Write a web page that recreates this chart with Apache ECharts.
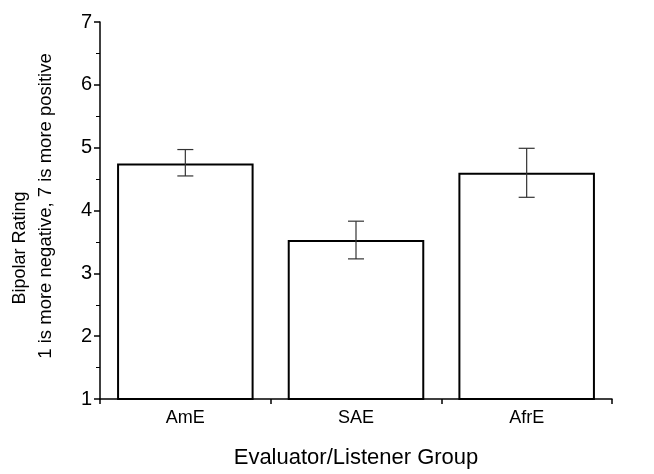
<!DOCTYPE html>
<html>
<head>
<meta charset="utf-8">
<script src="https://cdn.jsdelivr.net/npm/echarts@6/dist/echarts.min.js"></script>
<style>
  html, body { margin: 0; padding: 0; background: #fff; }
  #chart { width: 654px; height: 474px; }
</style>
</head>
<body>
<div id="chart"></div>
<script>
const groups = ["AmE", "SAE", "AfrE"]
const means = [4.75, 3.53, 4.60]
const errLow = [4.55, 3.23, 4.21]
const errHigh = [4.97, 3.83, 4.99]
const yTicks = [1, 2, 3, 4, 5, 6, 7]

const chart = echarts.init(document.getElementById("chart"))
const font = "Liberation Sans, Arial, sans-serif"

const option = {
  animation: false,
  grid: { left: 100, right: 42, top: 22, bottom: 74 },
  xAxis: {
    type: "category",
    data: groups,
    boundaryGap: true,
    axisLine: { lineStyle: { color: "#000", width: 1.5 } },
    axisTick: { show: true, length: 5, lineStyle: { color: "#000", width: 1.5 } },
    axisLabel: { color: "#000", fontSize: 18, fontFamily: font, margin: 10 },
    name: "Evaluator/Listener Group",
    nameLocation: "middle",
    nameGap: 48,
    nameTextStyle: { color: "#000", fontSize: 22, fontFamily: font }
  },
  yAxis: {
    type: "value",
    min: yTicks[0],
    max: yTicks[yTicks.length - 1],
    interval: 1,
    splitLine: { show: false },
    axisLine: { show: true, lineStyle: { color: "#000", width: 1.5 } },
    axisTick: { show: true, length: 6, lineStyle: { color: "#000", width: 1.5 } },
    minorTick: { show: true, splitNumber: 2, length: 4, lineStyle: { color: "#000", width: 1 } },
    axisLabel: { color: "#000", fontSize: 20, fontFamily: font, margin: 8 }
  },
  graphic: [
    {
      type: "text",
      x: 20, y: 248, rotation: Math.PI / 2,
      style: { text: "Bipolar Rating", fill: "#000", fontSize: 18, fontFamily: font, align: "center", verticalAlign: "middle" }
    },
    {
      type: "text",
      x: 46, y: 206, rotation: Math.PI / 2,
      style: { text: "1 is more negative, 7 is more positive", fill: "#000", fontSize: 18.5, fontFamily: font, align: "center", verticalAlign: "middle" }
    }
  ],
  series: [
    {
      type: "bar",
      data: means,
      barWidth: "80%",
      itemStyle: { color: "#fff", borderColor: "#000", borderWidth: 2 }
    },
    {
      type: "custom",
      data: groups.map((g, i) => [i, errLow[i], errHigh[i]]),
      renderItem: function (params, api) {
        const lo = api.coord([api.value(0), api.value(1)])
        const hi = api.coord([api.value(0), api.value(2)])
        const half = 8
        const st = { stroke: "#333", lineWidth: 1.2 }
        return {
          type: "group",
          children: [
            { type: "line", shape: { x1: hi[0], y1: hi[1], x2: lo[0], y2: lo[1] }, style: st },
            { type: "line", shape: { x1: hi[0] - half, y1: hi[1], x2: hi[0] + half, y2: hi[1] }, style: st },
            { type: "line", shape: { x1: lo[0] - half, y1: lo[1], x2: lo[0] + half, y2: lo[1] }, style: st }
          ]
        }
      },
      z: 10
    }
  ]
}
chart.setOption(option)
</script>
</body>
</html>
